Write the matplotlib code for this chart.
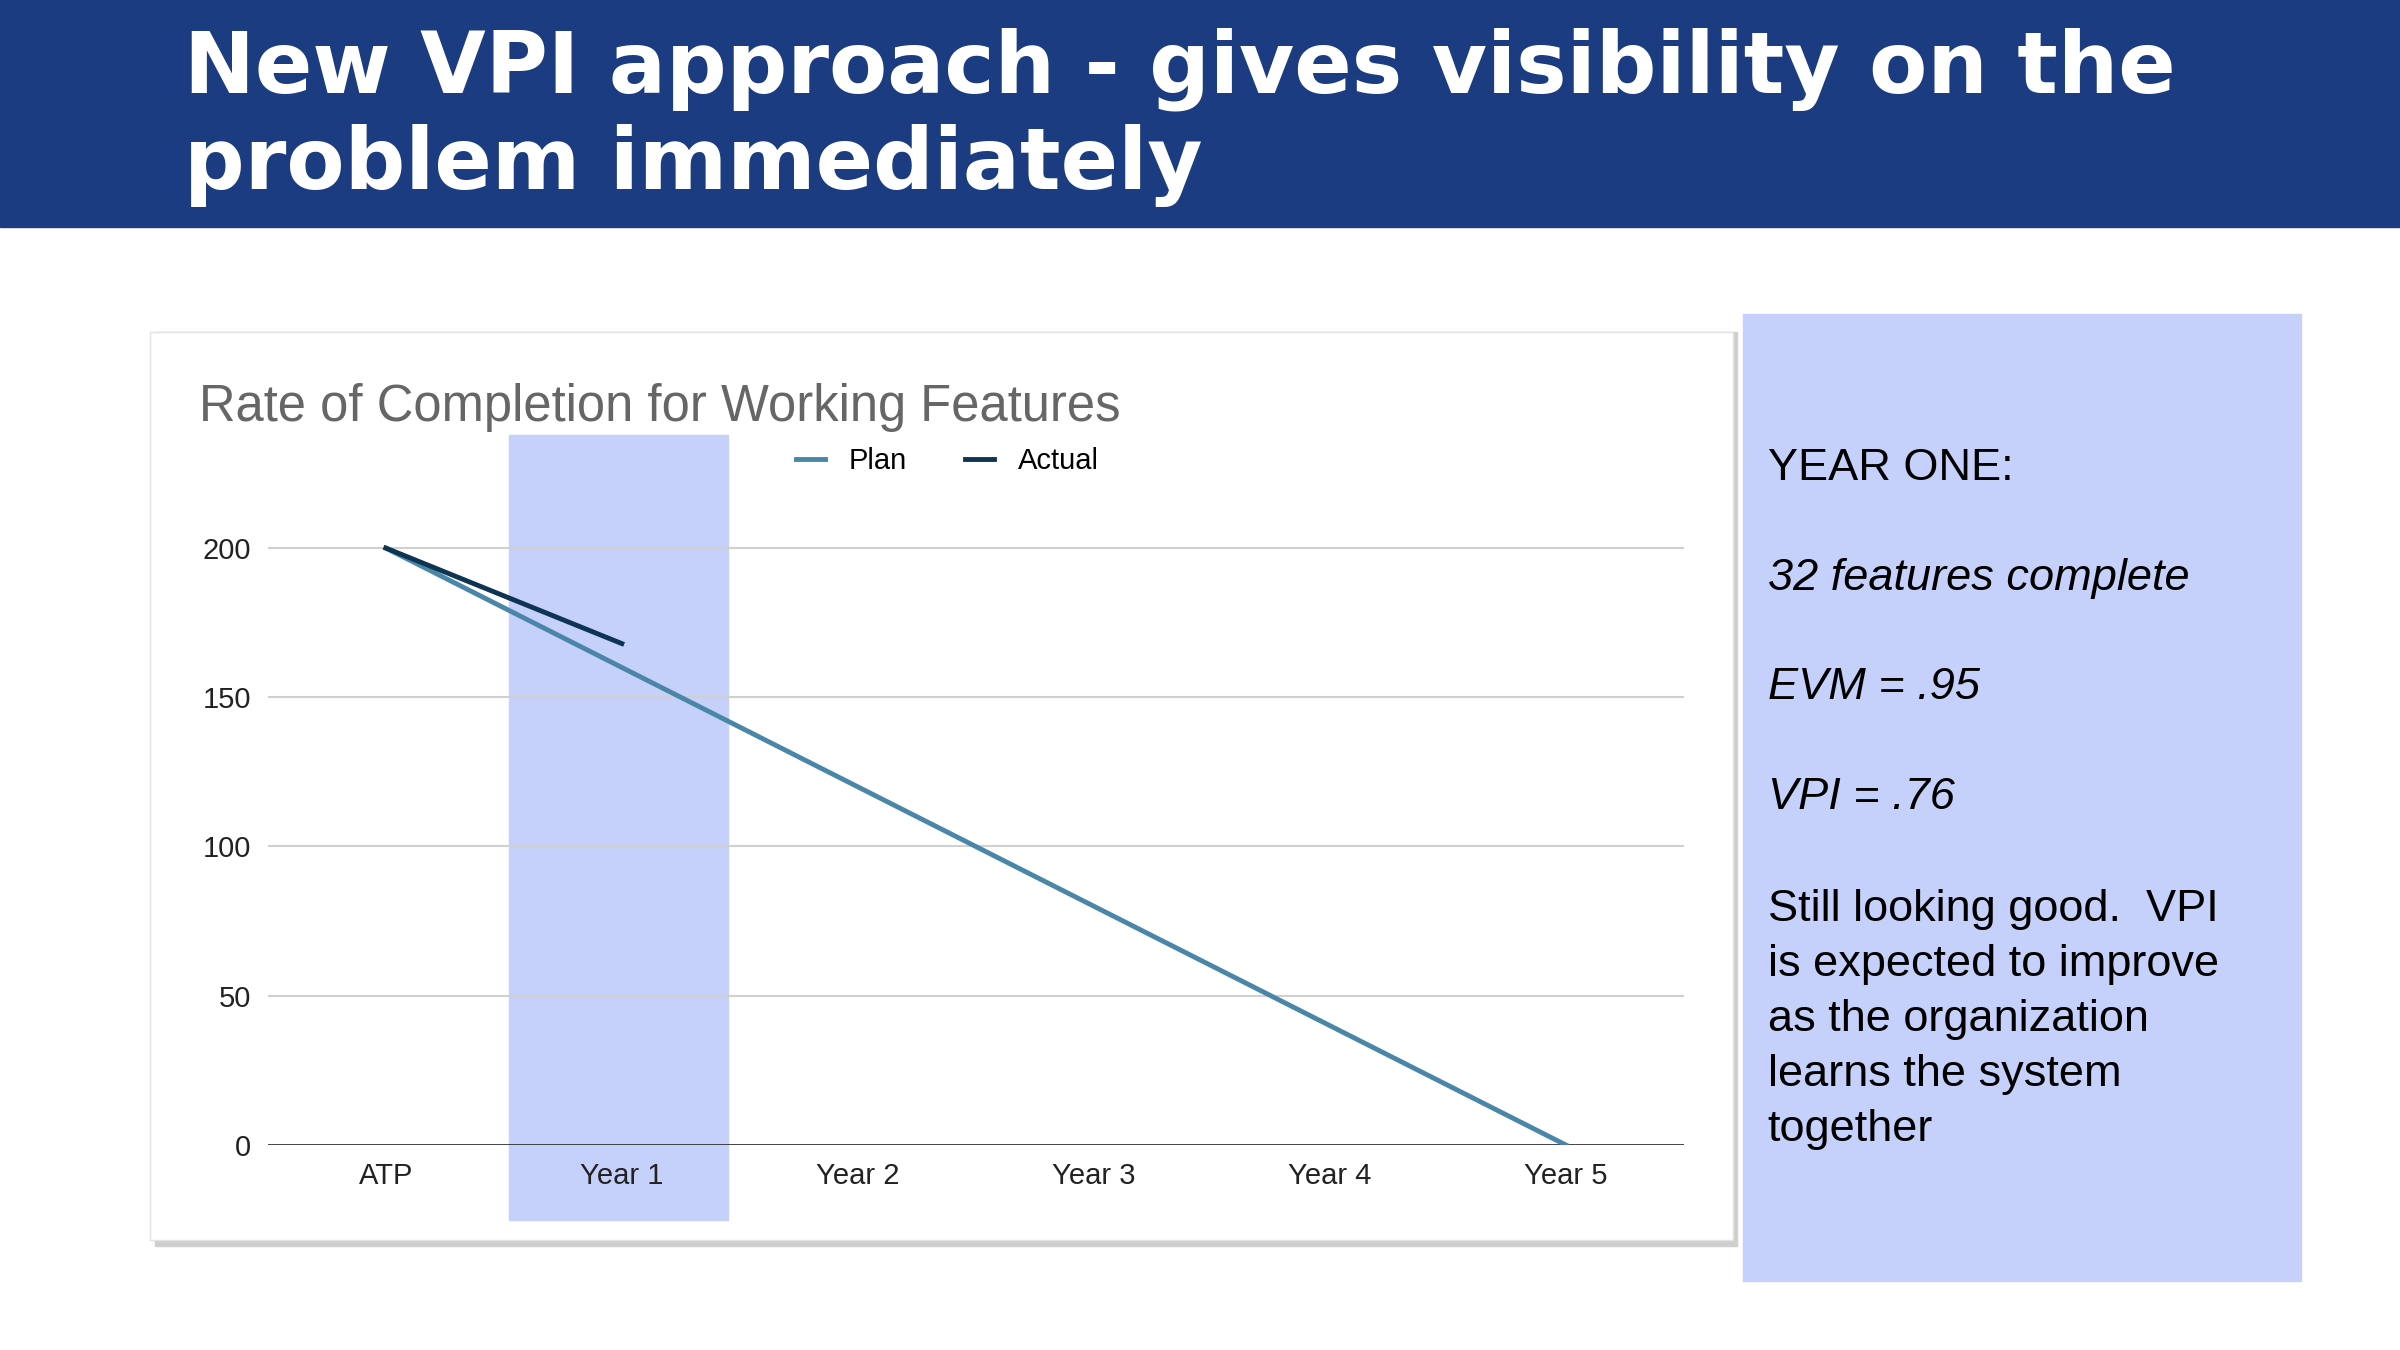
import matplotlib.pyplot as plt
from matplotlib.patches import Rectangle

categories = ['ATP', 'Year 1', 'Year 2', 'Year 3', 'Year 4', 'Year 5']
plan = [200, 160, 120, 80, 40, 0]
actual = [200, 168]
yticks = [0, 50, 100, 150, 200]

W, H = 1568, 882


def fx(x):
    return x / W


def fy(y):
    return 1 - y / H


plt.rcParams['font.family'] = ['Liberation Sans', 'DejaVu Sans']
fig = plt.figure(figsize=(24, 13.5), dpi=100)
fig.patch.set_facecolor('white')

# header band
fig.patches.append(Rectangle((0, fy(148)), 1, 148 / H, transform=fig.transFigure,
                             color='#1b3c80', zorder=-3))
fig.text(fx(120), fy(45), 'New VPI approach - gives visibility on the', color='white',
         fontsize=61, fontweight='bold', family=['DejaVu Sans'], va='center')
fig.text(fx(120), fy(108), 'problem immediately', color='white',
         fontsize=61, fontweight='bold', family=['DejaVu Sans'], va='center')

# chart card with shadow
fig.patches.append(Rectangle((fx(101), fy(814)), (1132 - 98) / W, (814 - 217) / H,
                             transform=fig.transFigure, color='#cfcfcf', zorder=-3))
fig.patches.append(Rectangle((fx(98), fy(810)), (1132 - 98) / W, (810 - 217) / H,
                             transform=fig.transFigure, facecolor='white',
                             edgecolor='#e2e2e2', zorder=-2))
fig.text(fx(130), fy(266), 'Rate of Completion for Working Features', color='#666666',
         fontsize=36.5, va='center')

# right panel
fig.patches.append(Rectangle((fx(1139), fy(837)), (1503 - 1139) / W, (837 - 205) / H,
                             transform=fig.transFigure, color='#c6d1fb', zorder=-3))
tx = fx(1155)
fig.text(tx, fy(306), 'YEAR ONE:', fontsize=32.5, va='center')
fig.text(tx, fy(378), '32 features complete', fontsize=32.5, style='italic', va='center')
fig.text(tx, fy(449), 'EVM = .95', fontsize=32.5, style='italic', va='center')
fig.text(tx, fy(521), 'VPI = .76', fontsize=32.5, style='italic', va='center')
para = ['Still looking good.  VPI', 'is expected to improve', 'as the organization',
        'learns the system', 'together']
for i, line in enumerate(para):
    fig.text(tx, fy(594 + i * 36), line, fontsize=32.5, va='center')

# axes
ax = fig.add_axes([fx(175), fy(748), (1100 - 175) / W, (748 - 284) / H])
ax.set_facecolor('none')
ax.set_xlim(-0.5, 5.5)
ax.set_ylim(0, 238)
ax.axvspan(0.52, 1.45, ymin=-0.106, ymax=1, color='#c6d1fb', clip_on=False, zorder=0)
for y in yticks[1:]:
    ax.axhline(y, color='#d0d0d0', lw=1.5, zorder=1)
ax.axhline(0, color='#333333', lw=2, zorder=2)
x = list(range(len(categories)))
ax.plot(x, plan, color='#4a86a8', lw=3.5, label='Plan', zorder=3)
ax.plot(x[:len(actual)], actual, color='#0d3552', lw=3.5, label='Actual', zorder=4)
ax.set_xticks(x)
ax.set_xticklabels(categories, fontsize=21, color='#222222')
ax.set_yticks(yticks)
ax.set_yticklabels([str(v) for v in yticks], fontsize=21, color='#222222')
ax.tick_params(length=0, pad=12)
for s in ax.spines.values():
    s.set_visible(False)
ax.legend(loc='upper center', bbox_to_anchor=(0.48, 1.02), ncol=2, frameon=False,
          fontsize=21, handlelength=1.0, columnspacing=2.0)

fig.savefig('out.png', dpi=100)
